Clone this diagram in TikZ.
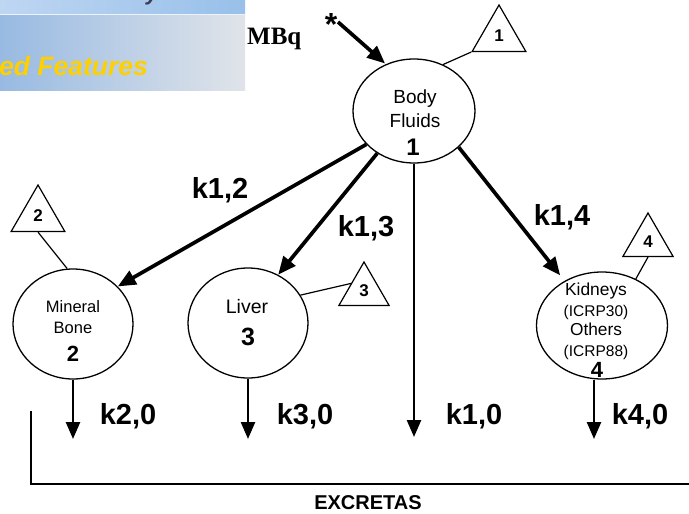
\documentclass[tikz,border=0pt]{standalone}
\usepackage{fontspec}
\setmainfont{Liberation Sans}
\newfontfamily\serifmb{Liberation Serif}
\usetikzlibrary{shapes.geometric, arrows.meta}

\newcommand\setfs[1]{\fontsize{#1}{#1}\selectfont}

\definecolor{bannerL}{RGB}{152,186,226}
\definecolor{bannerR}{RGB}{224,228,233}
\definecolor{stripL}{RGB}{190,214,242}
\definecolor{stripR}{RGB}{152,192,234}
\definecolor{gold}{RGB}{255,208,0}
\definecolor{inkgrey}{RGB}{60,60,80}

\begin{document}
\begin{tikzpicture}[x=1pt, y=-1pt,
  compartment/.style={ellipse, draw, line width=1.3pt, inner sep=0pt},
  tagtri/.style={regular polygon, regular polygon sides=3, draw, line width=1.2pt,
                 inner sep=0pt, font=\setfs{17}\bfseries},
  tagline/.style={line width=1.2pt},
  flow/.style={line width=3.7pt, -{Triangle[length=18pt,width=15pt]}},
  outflow/.style={line width=2.5pt, -{Triangle[length=17pt,width=14pt]}},
  rate/.style={font=\setfs{29}\bfseries, anchor=base, inner sep=0pt},
  txt/.style={anchor=base, inner sep=0pt},
]
\useasboundingbox (0,0) rectangle (689,514);
\fill[white] (0,0) rectangle (689,514);

% banner in the upper left corner
\begin{scope}
  \clip (0,0) rectangle (245,90);
  \shade[left color=bannerL, right color=bannerR] (0,14) rectangle (245,90);
  \shade[left color=stripL, right color=stripR] (0,0) rectangle (245,14);
  \draw[white!70!stripL, line width=1.2pt] (0,14.5) -- (245,14.5);
  \node[anchor=base west, inner sep=0pt, text=gold,
        font=\setfs{26.5}\bfseries\itshape] (feat) at (-1,75) {ed Features};
  \node[anchor=base west, inner sep=0pt, text=inkgrey,
        font=\setfs{22}\bfseries\itshape] (ky) at (146,0) {y};
\end{scope}

\node[txt, anchor=base west, font=\serifmb\bfseries\setfs{25}] (mbq) at (247,44) {MBq};

% compartments
\node[compartment, minimum width=122pt, minimum height=104pt] (bf) at (414,111) {};
\node[compartment, minimum width=120pt, minimum height=110pt] (bone) at (73,324) {};
\node[compartment, minimum width=120pt, minimum height=110pt] (liver) at (248,323) {};
\node[compartment, minimum width=131pt, minimum height=107pt] (kid) at (602,325.5) {};

\node[txt, font=\setfs{19}] (bft1) at (415,103) {Body};
\node[txt, font=\setfs{19}] (bft2) at (415,127) {Fluids};
\node[txt, font=\setfs{24}\bfseries] (bfn) at (413,155) {1};

\node[txt, font=\setfs{16.5}] (bnt1) at (73,312) {Mineral};
\node[txt, font=\setfs{16.5}] (bnt2) at (73,333) {Bone};
\node[txt, font=\setfs{22}\bfseries] (bnn) at (73,361) {2};

\node[txt, font=\setfs{19.5}] (lvt) at (247,313) {Liver};
\node[txt, font=\setfs{25}\bfseries] (lvn) at (248,345) {3};

\node[txt, font=\setfs{17.4}] (kdt1) at (596,295) {Kidneys};
\node[txt, font=\setfs{15.5}] (kdt2) at (596,316) {(ICRP30)};
\node[txt, font=\setfs{17.3}] (kdt3) at (596,335) {Others};
\node[txt, font=\setfs{15.5}] (kdt4) at (596,356) {(ICRP88)};
\node[txt, font=\setfs{22}\bfseries] (kdn) at (597,377) {4};

% numbered tags
\node[tagtri, minimum size=62pt] (t1) at (499,36) {1};
\node[tagtri, minimum size=62pt] (t2) at (38,216) {2};
\node[tagtri, minimum size=58pt] (t3) at (364,291) {3};
\node[tagtri, minimum size=58pt] (t4) at (648,242) {4};

\draw[tagline] (t1.corner 2) -- (bf.58);
\draw[tagline] (t2.side 2) -- (bone.96);
\draw[tagline] (t3.side 1) -- (liver.28);
\draw[tagline] (t4.side 2) -- (kid.54);

% intake
\node[txt, font=\setfs{32}\bfseries] (ast) at (331,35) {*};
\coordinate (sa) at (338,22);
\draw[flow, shorten >=1pt] (sa) -- (bf.121);

% transfers between compartments
\draw[flow] (bf.215) -- (bone.40);
\draw[flow] (bf.229) -- (liver.58);
\draw[flow, shorten >=7pt] (bf.321) -- (kid.130);

\node[rate] (k12) at (220,198) {k1,2};
\node[rate] (k13) at (366,236) {k1,3};
\node[rate] (k14) at (562,225) {k1,4};

% excretion
\coordinate (o2) at (73,439);
\coordinate (o3) at (248,439);
\coordinate (o1) at (414,437);
\coordinate (o4) at (594,439);
\draw[outflow] (bone.south) -- (o2);
\draw[outflow] (liver.south) -- (o3);
\draw[outflow] (bf.south) -- (o1);
\draw[outflow] (kid.south -| o4) -- (o4);

\node[rate] (k20) at (128,424) {k2,0};
\node[rate] (k30) at (305,424) {k3,0};
\node[rate] (k10) at (474,424) {k1,0};
\node[rate] (k40) at (640,424) {k4,0};

\coordinate (xa) at (31,411);
\coordinate (xb) at (31,484);
\coordinate (xc) at (689,484);
\draw[line width=2.2pt] (xa) -- (xb) -- (xc);
\node[txt, font=\setfs{20}\bfseries] (exc) at (368,509) {EXCRETAS};
\end{tikzpicture}
\end{document}
